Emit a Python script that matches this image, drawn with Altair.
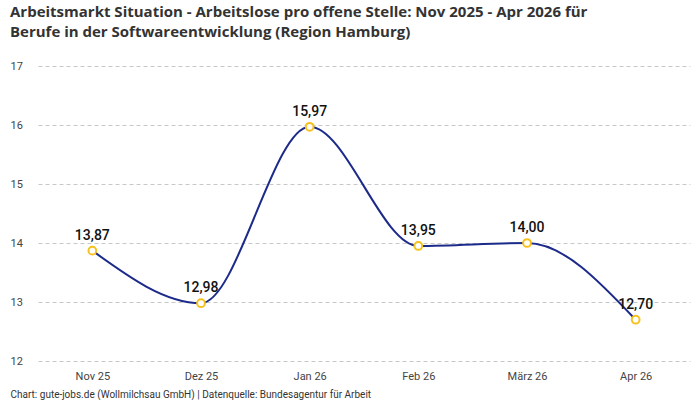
import altair as alt
import pandas as pd

months = ["Nov 25", "Dez 25", "Jan 26", "Feb 26", "März 26", "Apr 26"]
values = [13.87, 12.98, 15.97, 13.95, 14.00, 12.70]
labels = ["13,87", "12,98", "15,97", "13,95", "14,00", "12,70"]

df = pd.DataFrame({"Monat": months, "Wert": values, "Label": labels})

FONT = "Roboto"

x = alt.X("Monat:N", sort=months,
          scale=alt.Scale(paddingInner=0, paddingOuter=0),
          axis=alt.Axis(title="Chart: gute-jobs.de (Wollmilchsau GmbH) | Datenquelle: Bundesagentur für Arbeit",
                        titleAnchor="start", titleX=-28, titleY=28, titleFontSize=10,
                        titleFontWeight="normal", titleColor="#333", titleFont=FONT,
                        labelAngle=0, labelFontSize=11, labelColor="#444", labelFont=FONT,
                        labelPadding=9, domain=False, ticks=False, grid=False))
y = alt.Y("Wert:Q", scale=alt.Scale(domain=[12, 17], nice=False, zero=False),
          axis=alt.Axis(title=None, values=[12, 13, 14, 15, 16, 17], labelFontSize=11,
                        labelColor="#444", labelFont=FONT, labelAlign="left", labelPadding=28,
                        domain=False, ticks=False, grid=True, gridDash=[4, 3],
                        gridColor="#c8c8c8", gridWidth=1))

base = alt.Chart(df)

line = base.mark_line(interpolate="monotone", color="#1c2a8a", strokeWidth=2).encode(x=x, y=y)
pts = base.mark_point(shape="circle", filled=True, fill="white", stroke="#f7c11c",
                      strokeWidth=2, size=60, opacity=1).encode(x=x, y=y)
txt = base.mark_text(dy=-15, fontSize=14, fontWeight=500, color="#111", font=FONT).encode(
    x=x, y=y, text="Label:N")

chart = alt.layer(line, pts, txt).properties(
    width=652, height=295,
    title=alt.TitleParams(
        text=["Arbeitsmarkt Situation - Arbeitslose pro offene Stelle: Nov 2025 - Apr 2026 für",
              "Berufe in der Softwareentwicklung (Region Hamburg)"],
        anchor="start", fontSize=15, fontWeight="bold", color="#333",
        font="Open Sans", lineHeight=20, offset=20),
    autosize=alt.AutoSizeParams(type="none"),
    padding={"left": 38, "top": 66, "right": 10, "bottom": 39},
).configure_view(stroke=None)

chart.save("out.html", embed_options={"renderer": "svg", "actions": False})
